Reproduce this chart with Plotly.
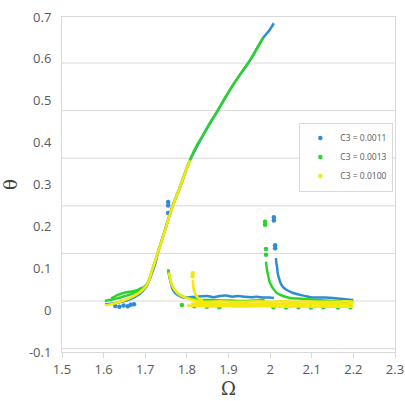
import plotly.graph_objects as go

# ---------------- data ----------------
X_TICKS = [1.5, 1.6, 1.7, 1.8, 1.9, 2.0, 2.1, 2.2, 2.3]
X_LABELS = ["1.5", "1.6", "1.7", "1.8", "1.9", "2", "2.1", "2.2", "2.3"]
Y_TICKS = [-0.1, 0.0, 0.1, 0.2, 0.3, 0.4, 0.5, 0.6, 0.7]
Y_LABELS = ["-0.1", "0", "0.1", "0.2", "0.3", "0.4", "0.5", "0.6", "0.7"]

SERIES_NAMES = ["C3 = 0.0011", "C3 = 0.0013", "C3 = 0.0100"]

# ---- C3 = 0.0011 (blue): continuous branches (None separates them) ----
OMEGA_B = [1.603, 1.623, 1.643, 1.663, 1.683, 1.693, 1.703, 1.713, 1.723, 1.733, 1.747, 1.764, 1.784,
           1.808, 1.839, 1.860, 1.872, 1.911, 1.952, 1.983, 1.998, 2.009, None,
           1.756, 1.758, 1.761, 1.764, 1.768, 1.774, 1.782, 1.792, 1.804, 1.819, 1.834, 1.849, 1.864,
           1.879, 1.894, 1.909, 1.924, 1.939, 1.954, 1.969, 1.984, 1.999, 2.009, None,
           2.014, 2.015, 2.017, 2.018, 2.021, 2.025, 2.031, 2.040, 2.055, 2.070, 2.083, 2.096, 2.115,
           2.133, 2.151, 2.170, 2.192, 2.200]
THETA_B = [0.014, 0.016, 0.020, 0.026, 0.036, 0.045, 0.057, 0.080, 0.108, 0.146, 0.190, 0.244, 0.294,
           0.359, 0.418, 0.454, 0.473, 0.538, 0.597, 0.650, 0.668, 0.685, None,
           0.094, 0.080, 0.067, 0.055, 0.046, 0.039, 0.034, 0.030, 0.030, 0.032, 0.033, 0.034, 0.031,
           0.034, 0.035, 0.032, 0.034, 0.032, 0.031, 0.032, 0.030, 0.030, 0.029, None,
           0.124, 0.112, 0.101, 0.089, 0.077, 0.065, 0.055, 0.048, 0.041, 0.037, 0.034, 0.031, 0.030,
           0.030, 0.029, 0.027, 0.025, 0.024]
# blue isolated points
OMEGA_B_DOTS = [1.628, 1.638, 1.648, 1.658, 1.665, 1.673, 1.755, 1.755, 1.755, 2.009, 2.009, 2.012, 2.012]
THETA_B_DOTS = [0.010, 0.008, 0.011, 0.009, 0.013, 0.014, 0.258, 0.250, 0.232, 0.222, 0.214, 0.155, 0.148]

# ---- C3 = 0.0013 (green) ----
OMEGA_G = [1.603, 1.613, 1.623, 1.633, 1.643, 1.653, 1.663, 1.673, 1.683, 1.693, 1.703, 1.709, 1.716,
           1.723, 1.733, 1.740, 1.747, 1.755, 1.764, 1.773, 1.783, 1.795, 1.807, 1.823, 1.839, 1.860,
           1.872, 1.891, 1.911, 1.932, 1.952, 1.969, 1.983, None,
           1.618, 1.633, 1.648, 1.663, 1.678, 1.693, None,
           1.755, 1.757, 1.760, 1.764, 1.769, 1.775, 1.782, 1.791, 1.802, 1.814, 1.829, 1.844, 1.864,
           1.884, 1.904, 1.924, 1.944, 1.964, 1.979, 1.987, None,
           1.990, 1.9925, 1.995, 1.997, 2.000, 2.004, 2.010, 2.0165, 2.028, 2.048, 2.075, 2.113, 2.150,
           2.192, 2.200]
THETA_G = [0.022, 0.024, 0.026, 0.028, 0.031, 0.034, 0.037, 0.041, 0.046, 0.052, 0.061, 0.072, 0.094,
           0.115, 0.147, 0.168, 0.190, 0.216, 0.243, 0.268, 0.294, 0.327, 0.358, 0.392, 0.418, 0.454,
           0.473, 0.506, 0.538, 0.569, 0.597, 0.625, 0.650, None,
           0.028, 0.036, 0.041, 0.044, 0.047, 0.054, None,
           0.098, 0.085, 0.072, 0.060, 0.050, 0.043, 0.037, 0.032, 0.029, 0.027, 0.025, 0.024, 0.024,
           0.023, 0.023, 0.022, 0.022, 0.023, 0.024, 0.025, None,
           0.116, 0.096, 0.084, 0.074, 0.065, 0.056, 0.048, 0.041, 0.035, 0.029, 0.027, 0.024, 0.022,
           0.020, 0.020]
OMEGA_G_DOTS = [1.9877, 1.9877, 1.990, 1.990, 1.788, 1.818, 1.848, 1.878, 2.008, 2.038, 2.068, 2.098,
                2.128, 2.163, 2.193]
THETA_G_DOTS = [0.211, 0.204, 0.146, 0.132, 0.012, 0.009, 0.008, 0.007, 0.007, 0.006, 0.007, 0.006,
                0.007, 0.006, 0.007]

# ---- C3 = 0.0100 (yellow) ----
OMEGA_Y = [1.603, 1.613, 1.623, 1.633, 1.643, 1.653, 1.663, 1.673, 1.683, 1.693, 1.703, 1.709, 1.716,
           1.723, 1.733, 1.740, 1.747, 1.755, 1.764, 1.773, 1.783, 1.795, 1.807, None,
           1.757, 1.759, 1.762, 1.766, 1.771, 1.777, 1.784, 1.794, 1.804, 1.816, 1.829, None,
           1.8145, 1.815, 1.816, 1.818, 1.8205, 1.824, 1.830, 1.838, None,
           1.820, 1.850, 1.880, 1.910, 1.940, 1.970, 2.000, 2.030, 2.060, 2.090, 2.120, 2.150, 2.180,
           2.200, None,
           1.810, 1.840, 1.870, 1.900, 1.930, 1.960, 1.990, 2.020, 2.050, 2.080, 2.110, 2.140, 2.170,
           2.200, None,
           1.800, 1.830, 1.860, 1.890, 1.920, 1.950, 1.980, 2.010, 2.040, 2.070, 2.100, 2.130, 2.160,
           2.200]
THETA_Y = [0.012, 0.013, 0.015, 0.018, 0.021, 0.025, 0.029, 0.034, 0.040, 0.048, 0.059, 0.071, 0.093,
           0.114, 0.146, 0.167, 0.189, 0.215, 0.242, 0.267, 0.293, 0.325, 0.358, None,
           0.090, 0.078, 0.066, 0.056, 0.048, 0.041, 0.036, 0.031, 0.027, 0.024, 0.021, None,
           0.072, 0.062, 0.053, 0.045, 0.038, 0.032, 0.027, 0.023, None,
           0.021, 0.020, 0.021, 0.020, 0.020, 0.021, 0.020, 0.021, 0.020, 0.021, 0.020, 0.020, 0.021,
           0.020, None,
           0.016, 0.015, 0.015, 0.014, 0.015, 0.014, 0.015, 0.014, 0.015, 0.014, 0.015, 0.014, 0.014,
           0.014, None,
           0.011, 0.010, 0.009, 0.010, 0.009, 0.009, 0.010, 0.009, 0.008, 0.009, 0.008, 0.009, 0.008,
           0.008]
OMEGA_Y_DOTS = [1.814, 1.814]
THETA_Y_DOTS = [0.088, 0.081]

# ---------------- styling ----------------
COLORS = ["#2E8BD6", "#2BD42B", "#F5E80C"]
LINE_W = [2.5, 2.5, 2.6]
GRID = "#d9d9d9"
TXT = "#595959"

fig = go.Figure()
for name, xs, ys, dx, dy, col, lw in zip(
        SERIES_NAMES,
        [OMEGA_B, OMEGA_G, OMEGA_Y], [THETA_B, THETA_G, THETA_Y],
        [OMEGA_B_DOTS, OMEGA_G_DOTS, OMEGA_Y_DOTS], [THETA_B_DOTS, THETA_G_DOTS, THETA_Y_DOTS],
        COLORS, LINE_W):
    fig.add_trace(go.Scatter(x=xs, y=ys, mode="lines",
                             line=dict(color=col, width=lw, shape="spline", smoothing=0.7),
                             connectgaps=False, showlegend=False, legendgroup=name,
                             hoverinfo="skip"))
    fig.add_trace(go.Scatter(x=dx, y=dy, mode="markers", name=name, legendgroup=name,
                             marker=dict(color=col, size=4.5)))

# light horizontal gridlines of the original chart (they are not aligned with the tick labels)
for k in range(7):
    fig.add_shape(type="line", xref="x domain", yref="y domain", x0=0, x1=1,
                  y0=0.0101 + 0.1421 * k, y1=0.0101 + 0.1421 * k,
                  line=dict(color=GRID, width=1), layer="below")

fig.update_layout(
    width=405, height=401,
    margin=dict(l=62, r=10, t=17, b=49),
    paper_bgcolor="white", plot_bgcolor="white",
    font=dict(family="Open Sans", size=13, color=TXT),
    showlegend=True,
    legend=dict(x=0.995, y=0.685, xanchor="right", yanchor="top",
                bgcolor="white", bordercolor=GRID, borderwidth=1,
                font=dict(size=8.5, color=TXT), tracegroupgap=0, itemwidth=30),
    xaxis=dict(range=[1.5, 2.3], tickvals=X_TICKS, ticktext=X_LABELS, automargin=False,
               showgrid=False, zeroline=False, showline=True, mirror=True,
               linecolor=GRID, linewidth=1, ticks="outside", ticklen=5, tickcolor=GRID,
               ticklabelstandoff=0,
               title=dict(text="Ω", font=dict(family="DejaVu Serif", size=18, color="#404040"),
                          standoff=3)),
    yaxis=dict(range=[-0.1, 0.7], tickvals=Y_TICKS, ticktext=Y_LABELS, automargin=False,
               showgrid=False, zeroline=False, showline=True, mirror=True,
               linecolor=GRID, linewidth=1, ticks="", ticklabelstandoff=7,
               title=dict(text="θ", font=dict(family="DejaVu Serif", size=18, color="#404040"),
                          standoff=14)),
)

fig.write_html("out.html", config={"displayModeBar": False},
               post_script="document.body.style.margin='0px';")
